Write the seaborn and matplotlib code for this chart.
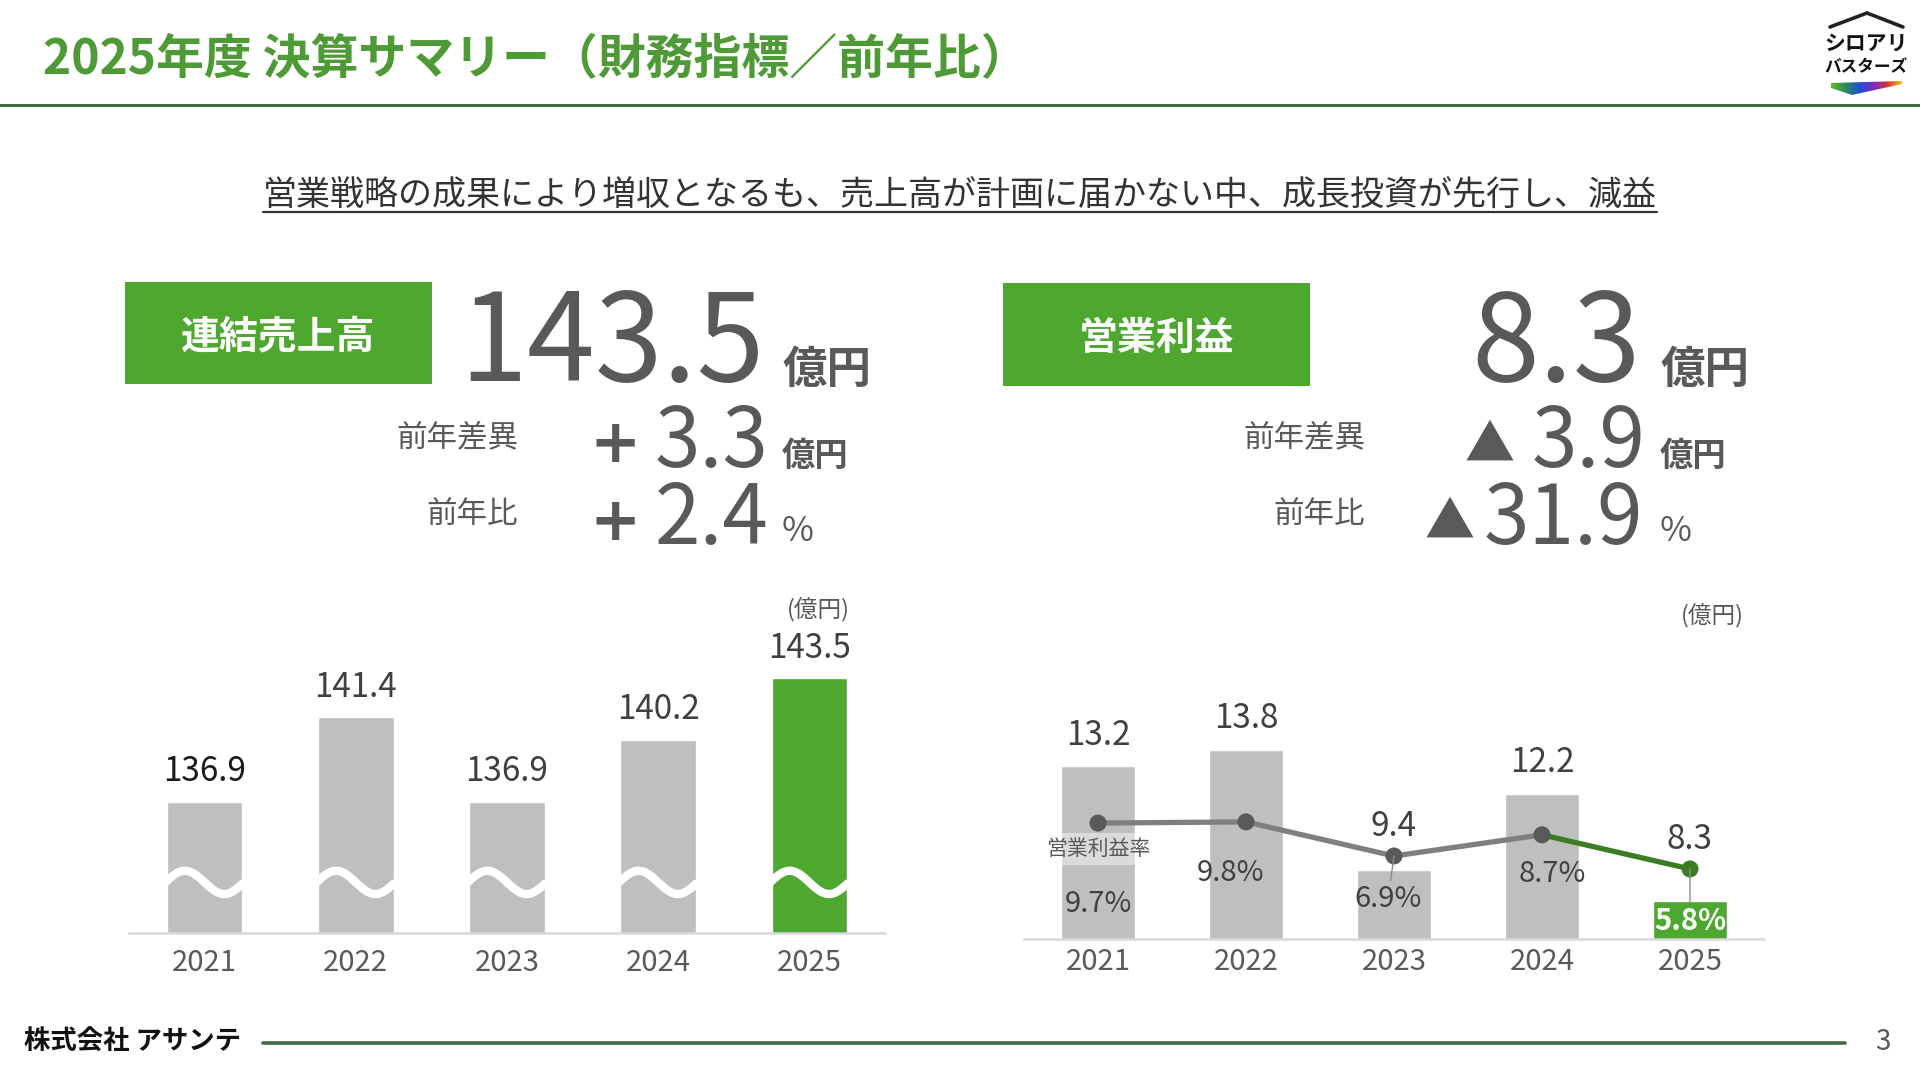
import numpy as np
import matplotlib
matplotlib.use('Agg')
import matplotlib.pyplot as plt
import seaborn as sns
from matplotlib.patches import Rectangle, Polygon
from matplotlib.colors import LinearSegmentedColormap

# ---- data ----
years = ['2021', '2022', '2023', '2024', '2025']
sales = [136.9, 141.4, 136.9, 140.2, 143.5]
op_profit = [13.2, 13.8, 9.4, 12.2, 8.3]
op_margin = [9.7, 9.8, 6.9, 8.7, 5.8]

title = '2025年度 決算サマリー（財務指標／前年比）'
headline = '営業戦略の成果により増収となるも、売上高が計画に届かない中、成長投資が先行し、減益'
sales_total, sales_diff, sales_ratio = '143.5', '3.3', '2.4'
profit_total, profit_diff, profit_ratio = '8.3', '3.9', '31.9'
company = '株式会社 アサンテ'
page_no = '3'

GREEN = '#4EA72E'
DARK_GREEN = '#3B7D23'
BAR_GRAY = '#BFBFBF'
TEXT = '#595959'
LABEL = '#404040'
RULE = '#3E6B44'

sns.set_theme(style='white')
plt.rcParams['font.family'] = ['Noto Sans CJK JP', 'DejaVu Sans']

W, H = 1920, 1080
fig = plt.figure(figsize=(19.2, 10.8), dpi=100)
fig.patch.set_facecolor('white')

# overlay in pixel coords for the slide decoration
deco = fig.add_axes([0, 0, 1, 1])
deco.axis('off')


def put(x, y, s, size, color=TEXT, weight='normal', ha='left', va='center', **kw):
    return deco.text(x, y, s, fontsize=size, color=color, fontweight=weight,
                     ha=ha, va=va, **kw)


def px_axes(x0, y0, x1, y1):
    return fig.add_axes([x0 / W, 1 - y1 / H, (x1 - x0) / W, (y1 - y0) / H])


# header
put(43, 60, title, 34.5, color='#4E9A36', weight='bold')
deco.plot([0, W], [105, 105], color=RULE, lw=2.2)

# logo
deco.plot([1830, 1867, 1903], [27, 13, 27], color='#222222', lw=2.6, solid_joinstyle='miter')
put(1866, 43, 'シロアリ', 15, color='#111111', weight='bold', ha='center')
put(1866, 67, 'バスターズ', 12, color='#111111', weight='bold', ha='center')
logo_cmap = LinearSegmentedColormap.from_list(
    'logo', ['#5DBB2F', '#2E8B57', '#1E4FD8', '#7A2BC4', '#E0303A', '#F2C200'])
grad = deco.imshow(np.linspace(0, 1, 200).reshape(1, -1), cmap=logo_cmap,
                   extent=(1831, 1902, 95, 80), aspect='auto', zorder=3)
wedge = Polygon([(1831, 83), (1902, 81), (1902, 84), (1852, 95), (1831, 88)],
                closed=True, transform=deco.transData, facecolor='none', edgecolor='none')
deco.add_patch(wedge)
grad.set_clip_path(wedge)

# headline with underline
hl = put(960, 196, headline, 24.5, color='#333333', ha='center')

# KPI blocks
deco.add_patch(Rectangle((125, 282), 307, 102, facecolor=GREEN, edgecolor='none'))
put(278, 337, '連結売上高', 28, color='white', weight='bold', ha='center')
put(765, 381, sales_total, 88, ha='right', va='baseline')
put(782, 383, '億円', 32, weight='bold', va='baseline')
put(518, 438, '前年差異', 22, ha='right')
put(615, 446, '+', 44, weight='bold', ha='center', family=['DejaVu Sans'])
put(768, 467, sales_diff, 59, ha='right', va='baseline')
put(782, 466, '億円', 24, weight='bold', va='baseline')
put(518, 515, '前年比', 22, ha='right')
put(615, 523, '+', 44, weight='bold', ha='center', family=['DejaVu Sans'])
put(768, 544, sales_ratio, 59, ha='right', va='baseline')
put(782, 541, '%', 25, va='baseline')

deco.add_patch(Rectangle((1003, 283), 307, 103, facecolor=GREEN, edgecolor='none'))
put(1157, 338, '営業利益', 28, color='white', weight='bold', ha='center')
put(1641, 381, profit_total, 88, ha='right', va='baseline')
put(1660, 383, '億円', 32, weight='bold', va='baseline')
put(1365, 438, '前年差異', 22, ha='right')
put(1489, 447, '▲', 36, ha='center')
put(1645, 467, profit_diff, 59, ha='right', va='baseline')
put(1660, 466, '億円', 24, weight='bold', va='baseline')
put(1365, 515, '前年比', 22, ha='right')
put(1449, 524, '▲', 36, ha='center')
put(1643, 544, profit_ratio, 59, ha='right', va='baseline')
put(1660, 541, '%', 25, va='baseline')

put(818, 610, '(億円)', 17, ha='center')
put(1712, 616, '(億円)', 17, ha='center')

# footer
put(24, 1042, company, 19, color='#111111', weight='bold')
deco.plot([263, 1845], [1043, 1043], color=RULE, lw=2.6)
put(1883, 1042, page_no, 20, color=TEXT, ha='center')

deco.set_xlim(0, W)
deco.set_ylim(H, 0)

# ---- left chart: consolidated sales ----
ax1 = px_axes(129, 590, 885, 933)
ax1.set_facecolor('none')
sns.barplot(x=years, y=sales, hue=years, legend=False, ax=ax1, width=0.5,
            palette=[BAR_GRAY] * 4 + [GREEN], saturation=1)
ax1.set_xlim(-0.5, 4.5)
ax1.set_ylim(129.9, 148.2)
val_colors = ['#1A1A1A', LABEL, LABEL, LABEL, LABEL]
for i, v in enumerate(sales):
    ax1.annotate(f'{v:.1f}', xy=(i, v), xytext=(0, 30), textcoords='offset pixels',
                 ha='center', va='center', fontsize=24, color=val_colors[i])
# break marks
t = np.linspace(0, 1, 60)
for i in range(len(years)):
    ax1.plot(i - 0.26 + 0.52 * t, 132.6 + 0.62 * np.sin(2 * np.pi * t),
             color='white', lw=6, solid_capstyle='butt', zorder=4)

# ---- right chart: operating profit + margin ----
ax2 = px_axes(1024, 600, 1764, 939)
ax2.set_facecolor('none')
sns.barplot(x=years, y=op_profit, hue=years, legend=False, ax=ax2, width=0.5,
            palette=[BAR_GRAY] * 4 + [GREEN], saturation=1)
ax2.set_xlim(-0.5, 4.5)
ax2.set_ylim(6.9, 19.27)

ax3 = ax2.twinx()
xs = np.arange(len(years))
sns.lineplot(x=xs[:4], y=op_margin[:4], ax=ax3, color='#7F7F7F', lw=3.8)
sns.lineplot(x=xs[3:], y=op_margin[3:], ax=ax3, color=DARK_GREEN, lw=3.8)
ax3.scatter(xs, op_margin, s=150, color=['#595959'] * 4 + [DARK_GREEN], zorder=5,
            edgecolors='none')
ax3.set_ylim(-0.16, 28.67)
ax3.set_xlim(-0.5, 4.5)
ax3.axis('off')

# value labels above the higher of bar top / marker
for i, v in enumerate(op_profit):
    bar_y = ax2.transData.transform((i, v))[1]
    mk_y = ax3.transData.transform((i, op_margin[i]))[1]
    if mk_y > bar_y:
        ax3.annotate(f'{v:.1f}', xy=(i, op_margin[i]), xytext=(0, 29),
                     textcoords='offset pixels', ha='center', va='center',
                     fontsize=24, color=LABEL)
    else:
        ax3.annotate(f'{v:.1f}', xy=(i, v), xycoords=ax2.transData, xytext=(0, 31),
                     textcoords='offset pixels', ha='center', va='center',
                     fontsize=24, color=LABEL)

pct_offsets = [(0, -81), (-16, -51), (-6, -43), (10, -39), (0, -52)]
leaders = [False, False, True, False, True]
for i, m in enumerate(op_margin):
    col = 'white' if i == 4 else LABEL
    arrow = dict(arrowstyle='-', color='#8C8C8C', lw=1.0, shrinkA=0, shrinkB=0) if leaders[i] else None
    ax3.annotate(f'{m:.1f}%', xy=(i, m), xytext=pct_offsets[i], textcoords='offset pixels',
                 ha='center', va='center', fontsize=21, color=col,
                 fontweight='bold' if i == 4 else 'normal', arrowprops=arrow, zorder=6)
ax3.annotate('営業利益率', xy=(0, op_margin[0]), xytext=(0, -26), textcoords='offset pixels',
             ha='center', va='center', fontsize=15, color=TEXT, zorder=6,
             bbox=dict(boxstyle='square,pad=0.25', facecolor='white', alpha=0.45,
                       edgecolor='none'))

for ax, pad in [(ax1, 11), (ax2, 6)]:
    for s in ['top', 'left', 'right']:
        ax.spines[s].set_visible(False)
    ax.spines['bottom'].set_color('#D9D9D9')
    ax.spines['bottom'].set_linewidth(1.8)
    ax.set_yticks([])
    ax.set_xlabel('')
    ax.set_ylabel('')
    ax.tick_params(axis='x', length=0, pad=pad, labelsize=21, labelcolor=TEXT)

# underline of the headline, measured from the rendered text
fig.canvas.draw()
bb = hl.get_window_extent().transformed(deco.transData.inverted())
deco.plot([bb.x0, bb.x1], [212, 212], color='#333333', lw=1.6)
deco.set_xlim(0, W)
deco.set_ylim(H, 0)

fig.savefig('out.png', dpi=100, facecolor='white')
